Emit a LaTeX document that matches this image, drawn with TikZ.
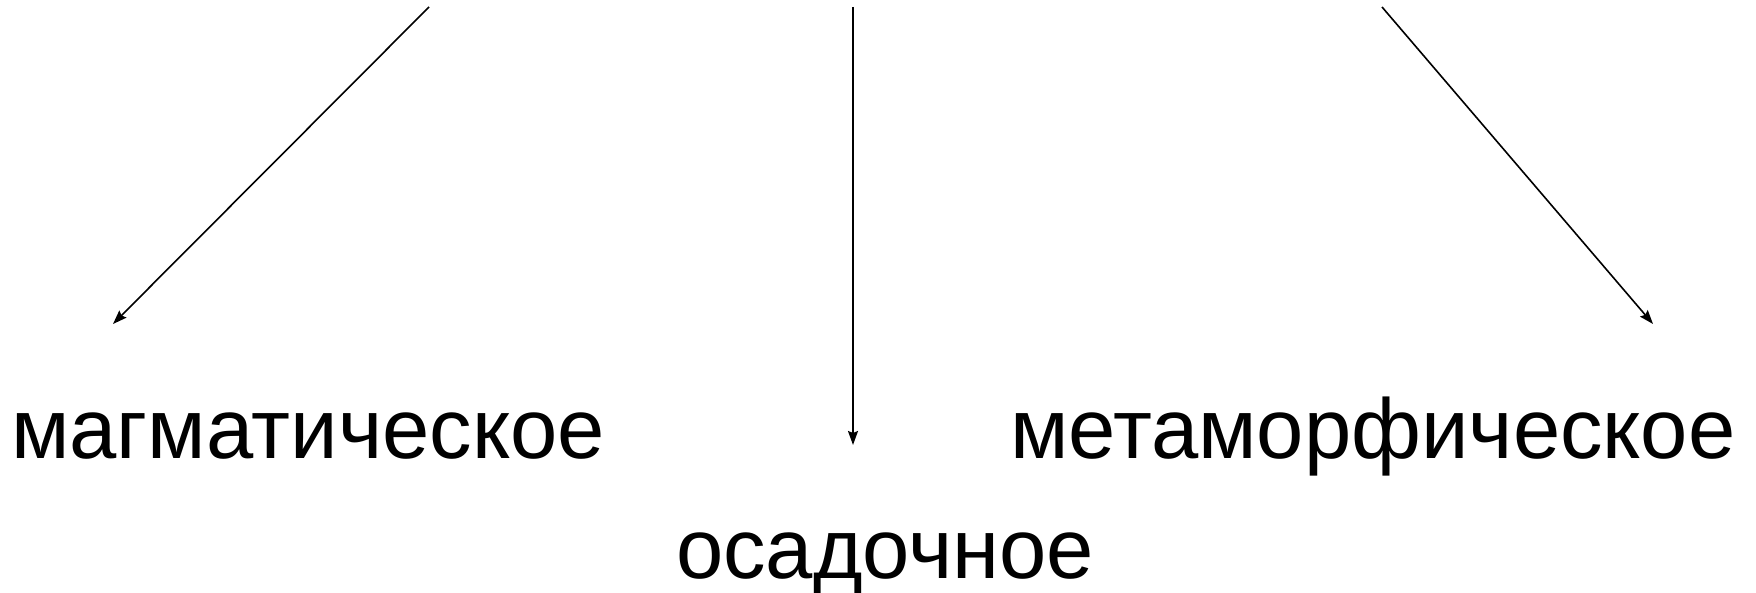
\documentclass[tikz,border=0pt]{standalone}
\usepackage{fontspec}
\setmainfont{Liberation Sans}
\usetikzlibrary{arrows.meta}
\begin{document}
\begin{tikzpicture}[x=1pt,y=1pt,
  arr/.style={line width=1.6pt,-{Stealth[length=14pt,width=10pt,inset=2pt]}},
  lbl/.style={inner sep=0pt,font=\fontsize{85}{100}\selectfont}]
\useasboundingbox (0,0) rectangle (1756,593);
\coordinate (s1) at (429,586);
\coordinate (e1) at (113,269);
\coordinate (s2) at (853,586);
\coordinate (e2) at (853,148);
\coordinate (s3) at (1382,586);
\coordinate (e3) at (1653,269);
\node[lbl,anchor=base west] (mag) at (11,134) {магматическое};
\node[lbl,anchor=base west] (met) at (1010,134) {метаморфическое};
\node[lbl,anchor=base west] (osa) at (676,14) {осадочное};
\draw[arr] (s1) -- (e1);
\draw[arr] (s2) -- (e2);
\draw[arr] (s3) -- (e3);
\end{tikzpicture}
\end{document}
